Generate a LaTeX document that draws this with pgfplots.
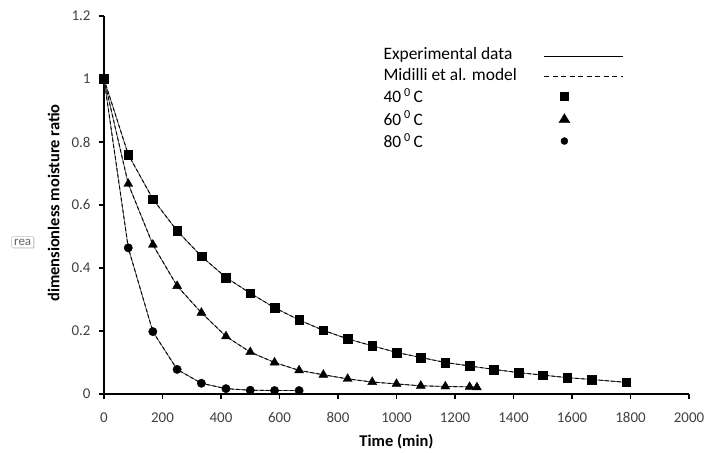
\documentclass[border=0pt]{standalone}
\usepackage{pgfplots}
\pgfplotsset{compat=1.18}
\usetikzlibrary{shadows}
\usepackage{fontspec}
\setmainfont{Carlito}
\pgfplotstableread{
t v
0 1.0
83 0.760
167 0.619
250 0.518
333 0.437
417 0.370
500 0.320
583 0.274
667 0.235
750 0.202
833 0.175
917 0.153
1000 0.132
1083 0.116
1167 0.100
1250 0.089
1333 0.078
1417 0.068
1500 0.060
1583 0.052
1667 0.046
1785 0.037
}\forty
\pgfplotstableread{
t v
0 1.0
83 0.667
167 0.474
250 0.343
333 0.258
417 0.183
500 0.133
583 0.100
667 0.075
750 0.061
833 0.048
917 0.038
1000 0.032
1083 0.026
1167 0.024
1250 0.0225
1275 0.021
}\sixty
\pgfplotstableread{
t v
0 1.0
83 0.464
167 0.198
250 0.078
333 0.034
417 0.017
500 0.012
583 0.011
667 0.011
}\eighty
\begin{document}
\begin{tikzpicture}
\useasboundingbox (-104bp,-59bp) rectangle (603bp,394bp);
\begin{axis}[
  scale only axis, width=585bp, height=378bp,
  xmin=0, xmax=2000, ymin=0, ymax=1.2,
  axis lines=left,
  axis line style={line width=1.6bp, -},
  xtick={0,200,400,600,800,1000,1200,1400,1600,1800,2000},
  ytick={0,0.2,0.4,0.6,0.8,1,1.2},
  yticklabels={0,0.2,0.4,0.6,0.8,1,1.2},
  /pgf/number format/1000 sep={},
  /pgf/number format/assume math mode=true,
  tick style={black, line width=1.2bp},
  tick align=outside, major tick length=5bp,
  ticklabel style={font=\fontsize{15}{17}\selectfont, text=black!75},
  xticklabel style={yshift=-10bp},
  yticklabel style={xshift=-5bp},
  xlabel={\textbf{Time (min)}},
  ylabel={\textbf{dimensionless moisture ratio}},
  label style={font=\fontsize{16.5}{19}\selectfont},
  xlabel style={at={(rel axis cs:0.5,0)}, anchor=center, yshift=-48bp},
  ylabel style={at={(rel axis cs:0,0.505)}, anchor=south, yshift=41bp},
  clip=false,
  legend plot pos=right,
  legend cell align=left,
  legend style={at={(rel axis cs:0.475,0.927)}, anchor=north west, draw=none, fill=none,
    font=\fontsize{17.5}{20}\selectfont, row sep=3bp, inner sep=0pt,
    nodes={inner sep=1.5bp}, column sep=0bp},
]
\addplot[gray!70!black, line width=0.8bp, forget plot] table[x=t,y=v] {\forty};
\addplot[black, line width=0.9bp, dash pattern=on 3.5bp off 2.5bp, forget plot] table[x=t,y=v] {\forty};
\addplot[only marks, mark=square*, mark size=4.3bp, black, forget plot] table[x=t,y=v] {\forty};

\addplot[gray!70!black, line width=0.8bp, forget plot] table[x=t,y=v] {\sixty};
\addplot[black, line width=0.9bp, dash pattern=on 3.5bp off 2.5bp, forget plot] table[x=t,y=v] {\sixty};
\addplot[only marks, mark=triangle*, mark size=5.2bp, black, forget plot] table[x=t,y=v] {\sixty};

\addplot[gray!70!black, line width=0.8bp, forget plot] table[x=t,y=v] {\eighty};
\addplot[black, line width=0.9bp, dash pattern=on 3.5bp off 2.5bp, forget plot] table[x=t,y=v] {\eighty};
\addplot[only marks, mark=*, mark size=4.2bp, black, forget plot] table[x=t,y=v] {\eighty};

\addlegendimage{legend image code/.code={\path[draw=none,fill=none] (0bp,-8bp) rectangle (105bp,10bp);\draw[black, line width=0.9bp] (26bp,-3bp) -- (105bp,-3bp);}}
\addlegendentry{Experimental data}
\addlegendimage{legend image code/.code={\path[draw=none,fill=none] (0bp,-8bp) rectangle (105bp,10bp);\draw[black, line width=0.9bp, dash pattern=on 5bp off 3.5bp] (26bp,-1bp) -- (105bp,-1bp);}}
\addlegendentry{Midilli et al. model}
\addlegendimage{legend image code/.code={\path[draw=none,fill=none] (0bp,-8bp) rectangle (105bp,10bp);\fill[black] (46bp,0bp) ++(-3.8bp,-3.8bp) rectangle ++(7.6bp,7.6bp);}}
\addlegendentry{40\,\textsuperscript{0}\,C}
\addlegendimage{legend image code/.code={\path[draw=none,fill=none] (0bp,-8bp) rectangle (105bp,10bp);\fill[black] (46bp,5bp) -- (40.5bp,-4bp) -- (51.5bp,-4bp) -- cycle;}}
\addlegendentry{60\,\textsuperscript{0}\,C}
\addlegendimage{legend image code/.code={\path[draw=none,fill=none] (0bp,-8bp) rectangle (105bp,10bp);\fill[black] (46bp,0bp) circle (3.5bp);}}
\addlegendentry{80\,\textsuperscript{0}\,C}

\node[draw=gray!50, fill=white, text=gray!80!black, font=\fontsize{13}{14}\selectfont,
  inner sep=2.5bp, rounded corners=1bp, drop shadow={shadow xshift=1bp, shadow yshift=-1bp, opacity=0.3}]
  at (rel axis cs:-0.139,0.402) {rea};
\end{axis}
\end{tikzpicture}
\end{document}
